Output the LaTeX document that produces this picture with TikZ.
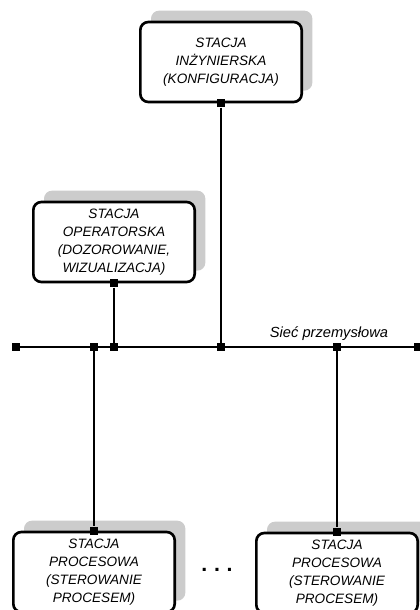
\documentclass[tikz,border=0pt]{standalone}
\usepackage{fontspec}
\setmainfont{Liberation Sans}
\usetikzlibrary{shadows}

\begin{document}
\begin{tikzpicture}[x=0.75pt, y=-0.75pt,
    stacja/.style={draw, line width=2pt, rounded corners=6pt, fill=white,
      minimum width=121pt, minimum height=60pt, align=center, inner sep=2pt,
      font=\itshape\fontsize{10.2}{13.6}\selectfont,
      drop shadow={opacity=1, fill=black!20, shadow xshift=8pt, shadow yshift=8.5pt}},
    wezel/.style={fill, inner sep=0pt, minimum size=6pt},
    lacze/.style={line width=2pt}]

    % Ramka
    \useasboundingbox (0,0) rectangle (420,610);
    \clip (0,0) rectangle (420,610);

    % Stacje
    \node[stacja] (inz) at (221,62) {STACJA\\INŻYNIERSKA\\(KONFIGURACJA)};
    \node[stacja] (op) at (114,242) {STACJA\\OPERATORSKA\\(DOZOROWANIE,\\WIZUALIZACJA)};
    \node[stacja] (pr1) at (94,572) {STACJA\\PROCESOWA\\(STEROWANIE\\PROCESEM)};
    \node[stacja] (pr2) at (337,573) {STACJA\\PROCESOWA\\(STEROWANIE\\PROCESEM)};

    % Kropki
    \node[font=\bfseries\fontsize{16}{16}\selectfont, inner sep=0pt] (dots) at (217,570)
      {.\hspace{5pt}.\hspace{5pt}.};

    % Wezly na stacjach
    \node[wezel] (inzW) at (inz.south) {};
    \node[wezel] (opW) at (op.south) {};
    \node[wezel] (pr1W) at (pr1.north) {};
    \node[wezel] (pr2W) at (pr2.north) {};

    % Wezly na magistrali
    \node[wezel] (sL) at (16,347) {};
    \node[wezel] (sR) at (418,347) {};
    \node[wezel] (sPr1) at (pr1.north |- sL) {};
    \node[wezel] (sOp) at (op.south |- sL) {};
    \node[wezel] (sInz) at (inz.south |- sL) {};
    \node[wezel] (sPr2) at (pr2.north |- sL) {};

    % Magistrala
    \draw[lacze] (sL) -- (sR);
    \node[font=\itshape\fontsize{11}{13}\selectfont] (siec) at (329,334) {Sieć przemysłowa};

    % Polaczenia
    \draw[lacze] (inzW) -- (sInz);
    \draw[lacze] (opW) -- (sOp);
    \draw[lacze] (sPr1) -- (pr1W);
    \draw[lacze] (sPr2) -- (pr2W);
\end{tikzpicture}
\end{document}
